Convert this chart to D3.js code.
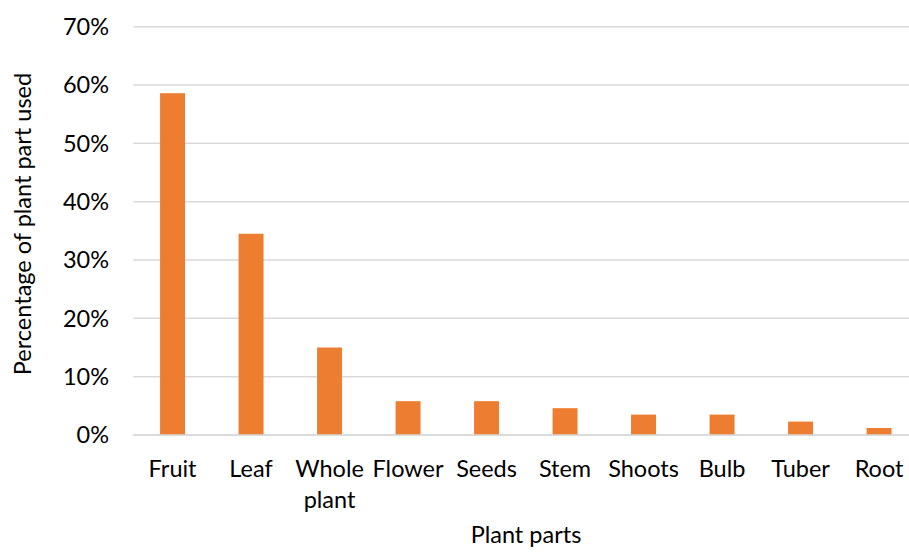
<!DOCTYPE html>
<html>
<head>
<meta charset="utf-8">
<script src="https://cdn.jsdelivr.net/npm/d3@7"></script>
<style>
  html, body { margin: 0; padding: 0; background: #ffffff; }
  svg { display: block; }
  text { font-family: Lato, "Open Sans", "Liberation Sans", sans-serif; fill: #000000; }
</style>
</head>
<body>
<script>
const categories = ["Fruit", "Leaf", "Whole plant", "Flower", "Seeds", "Stem", "Shoots", "Bulb", "Tuber", "Root"];
const values = [58.6, 34.5, 15.0, 5.8, 5.8, 4.6, 3.5, 3.5, 2.3, 1.2];
const yTicks = [0, 10, 20, 30, 40, 50, 60, 70];
const xTitle = "Plant parts";
const yTitle = "Percentage of plant part used";

const W = 909, H = 552;
const plotLeft = 133.3, plotRight = 918.3, plotTop = 26.7, plotBottom = 435;
const fs = 23.5;

const svg = d3.select("body").append("svg").attr("width", W).attr("height", H);

const x = d3.scaleBand().domain(categories).range([plotLeft, plotRight]).paddingInner(0.682).paddingOuter(0.341);
const y = d3.scaleLinear().domain([0, 70]).range([plotBottom, plotTop]);

// gridlines
svg.append("g").selectAll("line").data(yTicks).join("line")
  .attr("x1", plotLeft).attr("x2", plotRight)
  .attr("y1", d => y(d)).attr("y2", d => y(d))
  .attr("stroke", "#d9d9d9").attr("stroke-width", 1.5);

// y tick labels
svg.append("g").selectAll("text").data(yTicks).join("text")
  .attr("x", 109).attr("y", d => y(d)).attr("dy", "0.36em")
  .attr("text-anchor", "end").attr("font-size", fs)
  .text(d => d + "%");

// bars
svg.append("g").selectAll("rect").data(values).join("rect")
  .attr("x", (d, i) => x(categories[i]))
  .attr("width", x.bandwidth())
  .attr("y", d => y(d))
  .attr("height", d => y(0) - y(d))
  .attr("fill", "#ED7D31");

// baseline
svg.append("line").attr("x1", plotLeft).attr("x2", plotRight)
  .attr("y1", y(0)).attr("y2", y(0))
  .attr("stroke", "#d9d9d9").attr("stroke-width", 1.5);

// x labels
const xl = svg.append("g").selectAll("text").data(categories).join("text")
  .attr("x", d => x(d) + x.bandwidth() / 2).attr("y", 477)
  .attr("text-anchor", "middle").attr("font-size", fs);
xl.each(function(d) {
  const t = d3.select(this);
  if (d === "Whole plant") {
    t.append("tspan").attr("x", x(d) + x.bandwidth() / 2).attr("dy", 0).text("Whole");
    t.append("tspan").attr("x", x(d) + x.bandwidth() / 2).attr("dy", 31).text("plant");
  } else {
    t.text(d);
  }
});

// axis titles
svg.append("text").attr("x", 526).attr("y", 543)
  .attr("text-anchor", "middle").attr("font-size", fs).text(xTitle);
svg.append("text")
  .attr("transform", "translate(31,224) rotate(-90)")
  .attr("text-anchor", "middle").attr("font-size", fs).text(yTitle);
</script>
</body>
</html>
